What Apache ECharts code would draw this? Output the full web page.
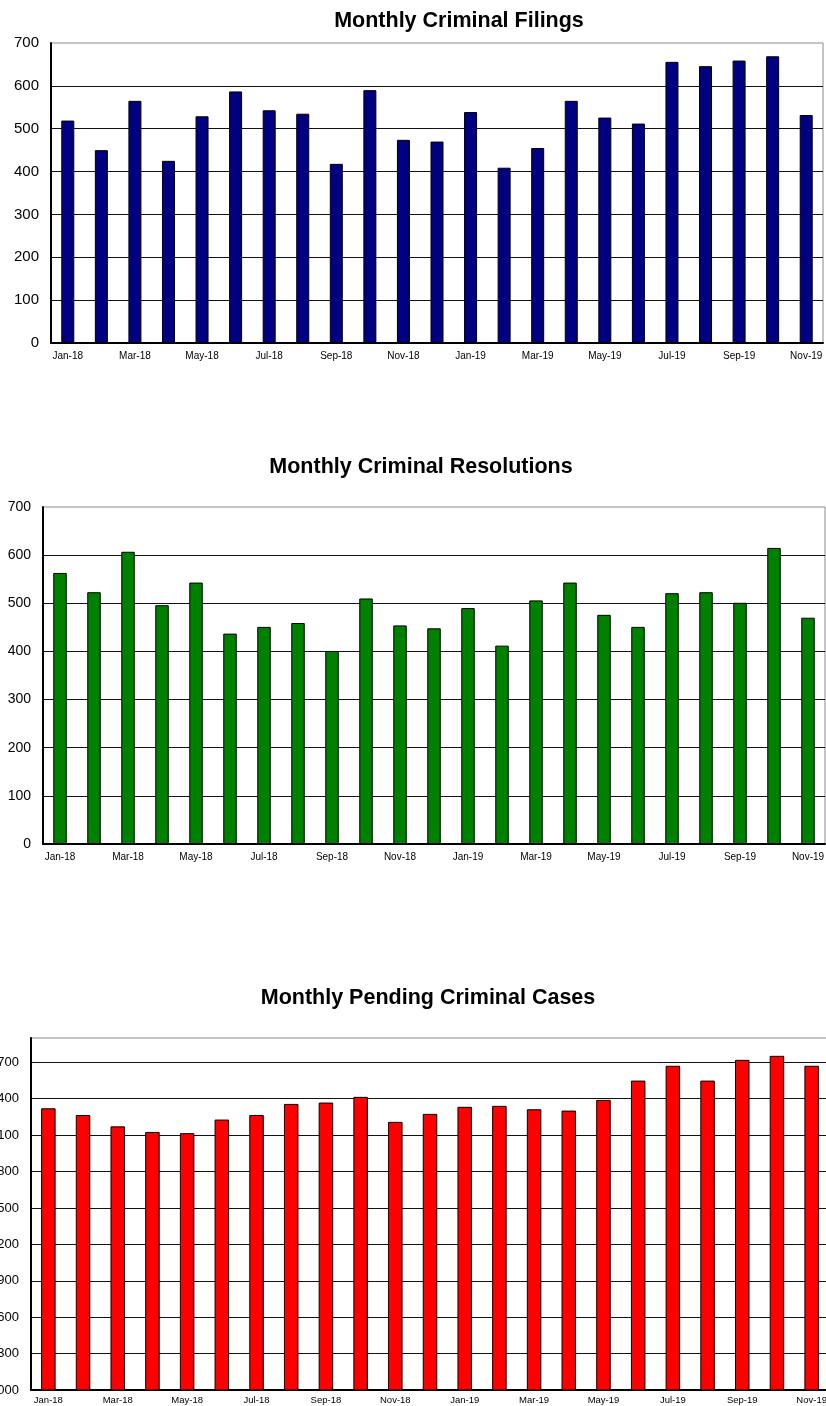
<!DOCTYPE html>
<html>
<head>
<meta charset="utf-8">
<script src="https://cdn.jsdelivr.net/npm/echarts@6/dist/echarts.min.js"></script>
<style>
html,body{margin:0;padding:0;background:#fff;}
#c{width:826px;height:1406px;}
</style>
</head>
<body>
<div id="c"></div>
<script>
const months = ['Jan-18','Feb-18','Mar-18','Apr-18','May-18','Jun-18','Jul-18','Aug-18','Sep-18','Oct-18','Nov-18','Dec-18',
  'Jan-19','Feb-19','Mar-19','Apr-19','May-19','Jun-19','Jul-19','Aug-19','Sep-19','Oct-19','Nov-19'];
const filings = [519, 450, 565, 425, 529, 587, 543, 535, 418, 590, 474, 470, 539, 409, 455, 565, 526, 512, 656, 646, 659, 669, 532];
const resolutions = [563, 523, 607, 496, 543, 437, 451, 459, 401, 510, 454, 448, 490, 412, 506, 543, 476, 451, 521, 523, 501, 615, 470];
const pending = [3321, 3266, 3172, 3126, 3116, 3228, 3266, 3357, 3368, 3415, 3209, 3275, 3333, 3341, 3313, 3302, 3390, 3549, 3671, 3549, 3720, 3753, 3671];
const titles = ['Monthly Criminal Filings', 'Monthly Criminal Resolutions', 'Monthly Pending Criminal Cases'];
const yRanges = [[0, 700, 100], [0, 700, 100], [1000, 3900, 300]];

const FONT = '"Liberation Sans", Arial, Helvetica, sans-serif';
const grids = [
  {left: 51, top: 43, width: 772, height: 300},
  {left: 43, top: 507, width: 782, height: 337},
  {left: 31, top: 1038, width: 798, height: 352}
];
const titlePos = [{x: 454, y: 5}, {x: 416, y: 451}, {x: 423, y: 982}];
const yFont = [15, 14, 13];
const xFont = [10, 10, 9.5];
const xMargin = [8, 8, 5];
const colors = ['#000080', '#008000', '#ff0000'];
const barW = [13, 13.5, 14.5];
const seriesData = [filings, resolutions, pending];

const option = {
  backgroundColor: '#fff',
  animation: false,
  title: titles.map((t, i) => ({
    text: t, left: titlePos[i].x, top: titlePos[i].y, textAlign: 'center',
    textStyle: {fontFamily: FONT, fontWeight: 'bold', fontSize: 21.5, color: '#000'}
  })),
  grid: grids.map(g => Object.assign({show: true, borderColor: '#8a8a8a', borderWidth: 1,
    backgroundColor: 'transparent', containLabel: false, outerBoundsMode: 'none'}, g)),
  xAxis: grids.map((g, i) => ({
    type: 'category', gridIndex: i, data: months,
    axisLine: {show: true, lineStyle: {color: '#000', width: 2}},
    axisTick: {show: false},
    axisLabel: {interval: 1, fontFamily: FONT, fontSize: xFont[i], color: '#000', margin: xMargin[i],
      hideOverlap: false},
    splitLine: {show: false}
  })),
  yAxis: grids.map((g, i) => ({
    type: 'value', gridIndex: i, min: yRanges[i][0], max: yRanges[i][1], interval: yRanges[i][2],
    axisLine: {show: true, lineStyle: {color: '#000', width: 2}},
    axisTick: {show: false},
    axisLabel: {fontFamily: FONT, fontSize: yFont[i], color: '#000', margin: 12,
      showMaxLabel: i !== 2, formatter: v => String(v)},
    splitLine: {show: true, showMinLine: false, showMaxLine: false, lineStyle: {color: '#111', width: 1}}
  })),
  series: seriesData.map((d, i) => ({
    type: 'bar', xAxisIndex: i, yAxisIndex: i, data: d, barWidth: barW[i],
    itemStyle: {color: colors[i], borderColor: '#000', borderWidth: 1}
  }))
};
const chart = echarts.init(document.getElementById('c'), null, {renderer: 'canvas'});
chart.setOption(option);
</script>
</body>
</html>
